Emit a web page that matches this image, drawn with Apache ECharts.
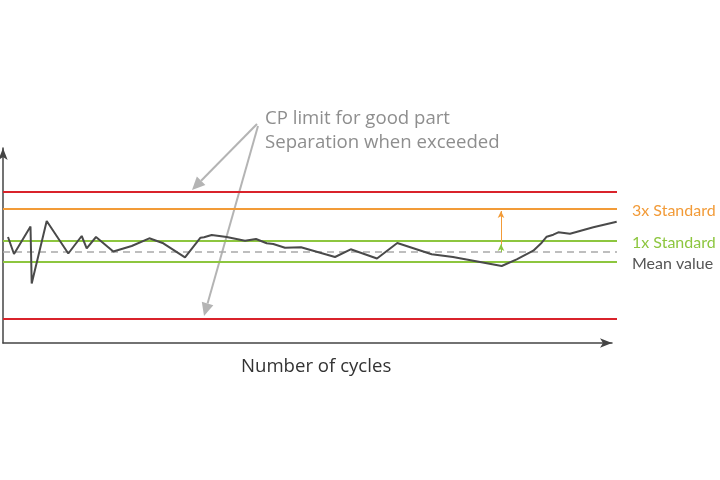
<!DOCTYPE html>
<html>
<head>
<meta charset="utf-8">
<script src="https://cdn.jsdelivr.net/npm/echarts@6/dist/echarts.min.js"></script>
<style>
html,body{margin:0;padding:0;background:#fff;}
#c{width:720px;height:480px;}
</style>
</head>
<body>
<div id="c"></div>
<script>
// Cycle position (x) and measured value (y) of the process line
const cycles = [5,11,27.5,28.7,43.7,65.3,78.7,83.7,93,110.3,128.7,146.3,160.3,182,197.5,201,208.7,223.7,242,253,263.7,270.3,282,298,332,347.7,374,394.3,428.7,450,498.7,513.7,530.3,538.7,543.7,550.3,555.3,567,590.3,613.7];
const values = [106,89,116.5,59.5,122,89.5,107,94.7,106,91.5,97,104.7,99.7,85.7,105.3,105.7,108,106,102.3,104,99.7,99,95.3,95.7,86,93.7,84.5,100,88.7,86,77,83.7,92.3,100.3,106.3,108.3,110.7,109.3,115.7,121.3];

// Reference levels
const cpUpper = 151.5;
const std3 = 134;
const std1Upper = 102;
const meanValue = 91;
const std1Lower = 81.5;
const cpLower = 24;

// Texts
const xAxisTitle = 'Number of cycles';
const noteLines = ['CP limit for good part', 'Separation when exceeded'];
const label3x = '3x Standard';
const label1x = '1x Standard';
const labelMean = 'Mean value';

// Annotation arrows (data coordinates: start, tip)
const noteArrows = [
  [[254, 219], [189, 153]],
  [[255, 217], [201, 27]]
];
const spreadX = 498;

const RED = '#d9232b', ORANGE = '#f29b38', GREEN = '#8dc63f', GREY = '#a9a9a9', DARK = '#4a4a4a';
const FONT = 'Lato';
const FONT2 = 'Open Sans';

const chart = echarts.init(document.getElementById('c'), null, {renderer: 'canvas'});

function hline(y, color, lbl, lblColor, dashed) {
  return {
    yAxis: y,
    lineStyle: {color: color, width: dashed ? 1.5 : 2, type: dashed ? [7, 5] : 'solid'},
    label: lbl ? {show: true, position: 'end', formatter: lbl, color: lblColor, fontSize: 16, fontFamily: FONT, distance: 15, offset: [0, 2]} : {show: false}
  };
}

const option = {
  animation: false,
  backgroundColor: '#fff',
  grid: [
    {left: 3, right: 103, top: 154, bottom: 137},
    {left: 3, right: 108, top: 148, bottom: 137}
  ],
  xAxis: [
    {type: 'value', gridIndex: 0, min: 0, max: 614, show: false},
    {type: 'value', gridIndex: 1, min: 0, max: 1, axisLabel: {show: false}, axisTick: {show: false}, splitLine: {show: false},
     axisLine: {show: true, symbol: ['none', 'arrow'], symbolSize: [7, 12], lineStyle: {color: '#444', width: 1.5}}}
  ],
  yAxis: [
    {type: 'value', gridIndex: 0, min: 0, max: 189, show: false},
    {type: 'value', gridIndex: 1, min: 0, max: 1, axisLabel: {show: false}, axisTick: {show: false}, splitLine: {show: false},
     axisLine: {show: true, symbol: ['none', 'arrow'], symbolSize: [7, 12], lineStyle: {color: '#444', width: 1.5}}}
  ],
  title: [
    {text: xAxisTitle, left: 241, top: 355, padding: 0, textStyle: {fontFamily: FONT2, fontSize: 18.6, fontWeight: 'normal', color: '#333', lineHeight: 24}},
    {text: noteLines.join('\n'), left: 265, top: 107, padding: 0, textStyle: {fontFamily: FONT2, fontSize: 18.6, fontWeight: 'normal', color: '#8e8e8e', lineHeight: 24}}
  ],
  series: [
    {
      type: 'line', xAxisIndex: 0, yAxisIndex: 0, data: [], silent: true,
      markLine: {
        silent: true, symbol: ['none', 'none'],
        data: [
          hline(cpUpper, RED),
          hline(std3, ORANGE, label3x, ORANGE),
          hline(std1Upper, GREEN, label1x, GREEN),
          hline(meanValue, GREY, null, null, true),
          hline(std1Lower, GREEN, labelMean, '#555'),
          hline(cpLower, RED)
        ]
      }
    },
    {
      type: 'line', xAxisIndex: 0, yAxisIndex: 0, data: [], silent: true,
      markLine: {
        silent: true, symbol: ['none', 'arrow'], symbolSize: [5, 7], label: {show: false},
        data: [
          [{coord: [spreadX, meanValue], lineStyle: {color: ORANGE, width: 1, type: 'solid'}}, {coord: [spreadX, std3 - 2]}],
          [{coord: [spreadX, meanValue], lineStyle: {color: GREEN, width: 1, type: 'solid'}}, {coord: [spreadX, std1Upper - 3]}]
        ]
      }
    },
    {
      type: 'line', xAxisIndex: 0, yAxisIndex: 0, silent: true,
      data: cycles.map((c, i) => [c, values[i]]),
      showSymbol: false, symbol: 'none',
      lineStyle: {color: DARK, width: 2},
      z: 5
    }
  ]
};
chart.setOption(option);

// Annotation arrows drawn from data coordinates converted by the chart's scales
const gfx = [];
noteArrows.forEach(a => {
  const p0 = chart.convertToPixel({gridIndex: 0}, a[0]);
  const p1 = chart.convertToPixel({gridIndex: 0}, a[1]);
  const dx = p1[0] - p0[0], dy = p1[1] - p0[1];
  const len = Math.sqrt(dx * dx + dy * dy);
  const ux = dx / len, uy = dy / len;
  const hl = 13, hw = 6;
  const bx = p1[0] - ux * hl, by = p1[1] - uy * hl;
  gfx.push({type: 'line', shape: {x1: p0[0], y1: p0[1], x2: bx, y2: by}, style: {stroke: '#b4b4b4', lineWidth: 2}, silent: true});
  gfx.push({type: 'polygon', shape: {points: [[p1[0], p1[1]], [bx - uy * hw, by + ux * hw], [bx + uy * hw, by - ux * hw]]}, style: {fill: '#b4b4b4'}, silent: true});
});
chart.setOption({graphic: gfx});
</script>
</body>
</html>
